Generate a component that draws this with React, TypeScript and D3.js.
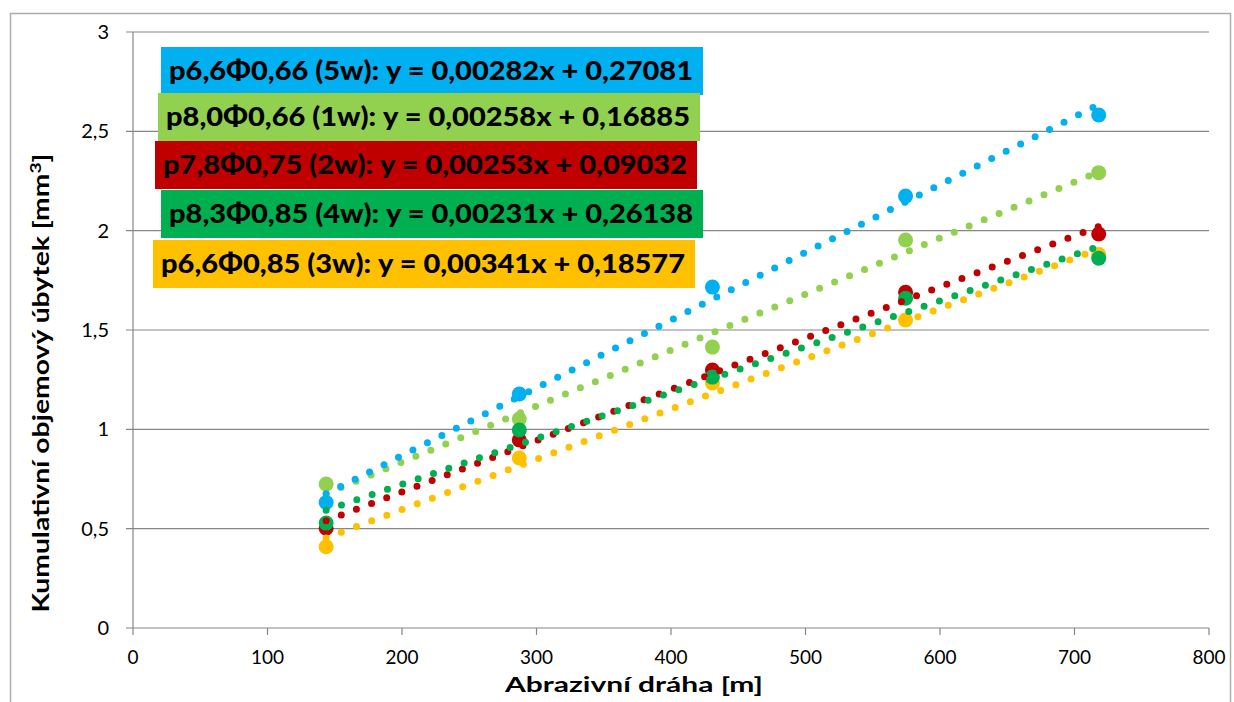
import React from 'react'
import * as d3 from 'd3'

// abrasion distance [m]
const distances = [143.6, 287.2, 430.8, 574.4, 718]

const seriesNames = ['p8,0Φ0,66 (1w)', 'p7,8Φ0,75 (2w)', 'p6,6Φ0,85 (3w)', 'p8,3Φ0,85 (4w)', 'p6,6Φ0,66 (5w)']
const seriesColors = ['#92D050', '#C00000', '#FFC000', '#00B050', '#00B0F0']

const loss1w = [0.725, 1.052, 1.414, 1.953, 2.292]
const loss2w = [0.502, 0.946, 1.299, 1.690, 1.983]
const loss3w = [0.409, 0.856, 1.233, 1.550, 1.880]
const loss4w = [0.528, 0.997, 1.263, 1.660, 1.861]
const loss5w = [0.632, 1.178, 1.716, 2.174, 2.582]
const seriesValues = [loss1w, loss2w, loss3w, loss4w, loss5w]

// linear trendline coefficients per series (slope, intercept)
const trendSlopes = [0.00282, 0.00258, 0.00253, 0.00231, 0.00341]
const trendIntercepts = [0.27081, 0.16885, 0.09032, 0.26138, 0.18577]

// trendline labels as they are shown (order and colour from the chart)
const labelTexts = [
  'p6,6Φ0,66 (5w): y = 0,00282x + 0,27081',
  'p8,0Φ0,66 (1w): y = 0,00258x + 0,16885',
  'p7,8Φ0,75 (2w): y = 0,00253x + 0,09032',
  'p8,3Φ0,85 (4w): y = 0,00231x + 0,26138',
  'p6,6Φ0,85 (3w): y = 0,00341x + 0,18577'
]
const labelColors = ['#00B0F0', '#92D050', '#C00000', '#00B050', '#FFC000']
const labelLefts = [161, 158, 155, 161, 153]
const labelTops = [47, 93, 141, 190, 240]

const xTicks = [0, 100, 200, 300, 400, 500, 600, 700, 800]
const yTicks = [0, 0.5, 1, 1.5, 2, 2.5, 3]

const fmt = (v: number) => String(v).replace('.', ',')

export default function App () {
  const width = 1234
  const height = 702
  const plot = { left: 133, right: 1209, top: 32, bottom: 628 }

  const x = d3.scaleLinear().domain([0, 800]).range([plot.left, plot.right])
  const y = d3.scaleLinear().domain([0, 3]).range([plot.bottom, plot.top])

  const line = d3.line<[number, number]>()
    .x(d => x(d[0]))
    .y(d => y(d[1]))

  const xMin = d3.min(distances) as number
  const xMax = d3.max(distances) as number
  const font = 'Lato, "Open Sans", sans-serif'
  const gridColor = '#868686'

  return (
    <svg width={width} height={height} style={{ position: 'absolute', left: 0, top: 0, background: '#fff' }}>
      <rect x={10.5} y={13.5} width={1220} height={700} fill='#fff' stroke='#ADADAD' strokeWidth={1.5} />

      {/* gridlines + y ticks */}
      {yTicks.map(t => (
        <g key={'y' + t}>
          <line x1={plot.left - 7} x2={plot.right} y1={y(t)} y2={y(t)} stroke={gridColor} strokeWidth={1.2} />
          <text x={109} y={y(t)} dy='0.35em' textAnchor='end' fontFamily={font} fontSize={20} fill='#000'>{fmt(t)}</text>
        </g>
      ))}
      <line x1={plot.left} x2={plot.left} y1={plot.top} y2={plot.bottom} stroke={gridColor} strokeWidth={1.2} />

      {/* x ticks */}
      {xTicks.map(t => (
        <g key={'x' + t}>
          <line x1={x(t)} x2={x(t)} y1={plot.bottom} y2={plot.bottom + 7} stroke={gridColor} strokeWidth={1.2} />
          <text x={x(t)} y={664} textAnchor='middle' fontFamily={font} fontSize={19} fill='#000'>{t}</text>
        </g>
      ))}

      {/* measured points */}
      {seriesValues.map((vals, i) => (
        <g key={'s' + i}>
          {vals.map((v, j) => (
            <circle key={j} cx={x(distances[j])} cy={y(v)} r={7.5} fill={seriesColors[i]} />
          ))}
        </g>
      ))}

      {/* dotted trendlines */}
      {seriesNames.map((name, i) => (
        <path
          key={'t' + name}
          d={line([[xMin, trendIntercepts[i] + trendSlopes[i] * xMin], [xMax, trendIntercepts[i] + trendSlopes[i] * xMax]]) || ''}
          fill='none'
          stroke={seriesColors[i]}
          strokeWidth={7}
          strokeLinecap='round'
          strokeDasharray='0 16.2'
        />
      ))}

      {/* trendline labels */}
      {labelTexts.map((txt, i) => (
        <g key={'l' + i}>
          <rect x={labelLefts[i]} y={labelTops[i]} width={542} height={48} fill={labelColors[i]} />
          <text
            x={labelLefts[i] + 8}
            y={labelTops[i] + 33}
            fontFamily={font}
            fontWeight={900}
            fontSize={26}
            fill='#000'
            textLength={524}
            lengthAdjust='spacingAndGlyphs'
          >{txt}</text>
        </g>
      ))}

      {/* axis titles */}
      <text x={634} y={692} textAnchor='middle' fontFamily={font} fontWeight='bold' fontSize={20}
        textLength={258} lengthAdjust='spacingAndGlyphs'>Abrazivní dráha [m]</text>
      <text transform='translate(49,383) rotate(-90)' textAnchor='middle' fontFamily={font} fontWeight='bold' fontSize={22}
        textLength={459} lengthAdjust='spacingAndGlyphs'>
        Kumulativní objemový úbytek [mm<tspan dy={-8} fontSize={15}>3</tspan><tspan dy={8}>]</tspan>
      </text>
    </svg>
  )
}
